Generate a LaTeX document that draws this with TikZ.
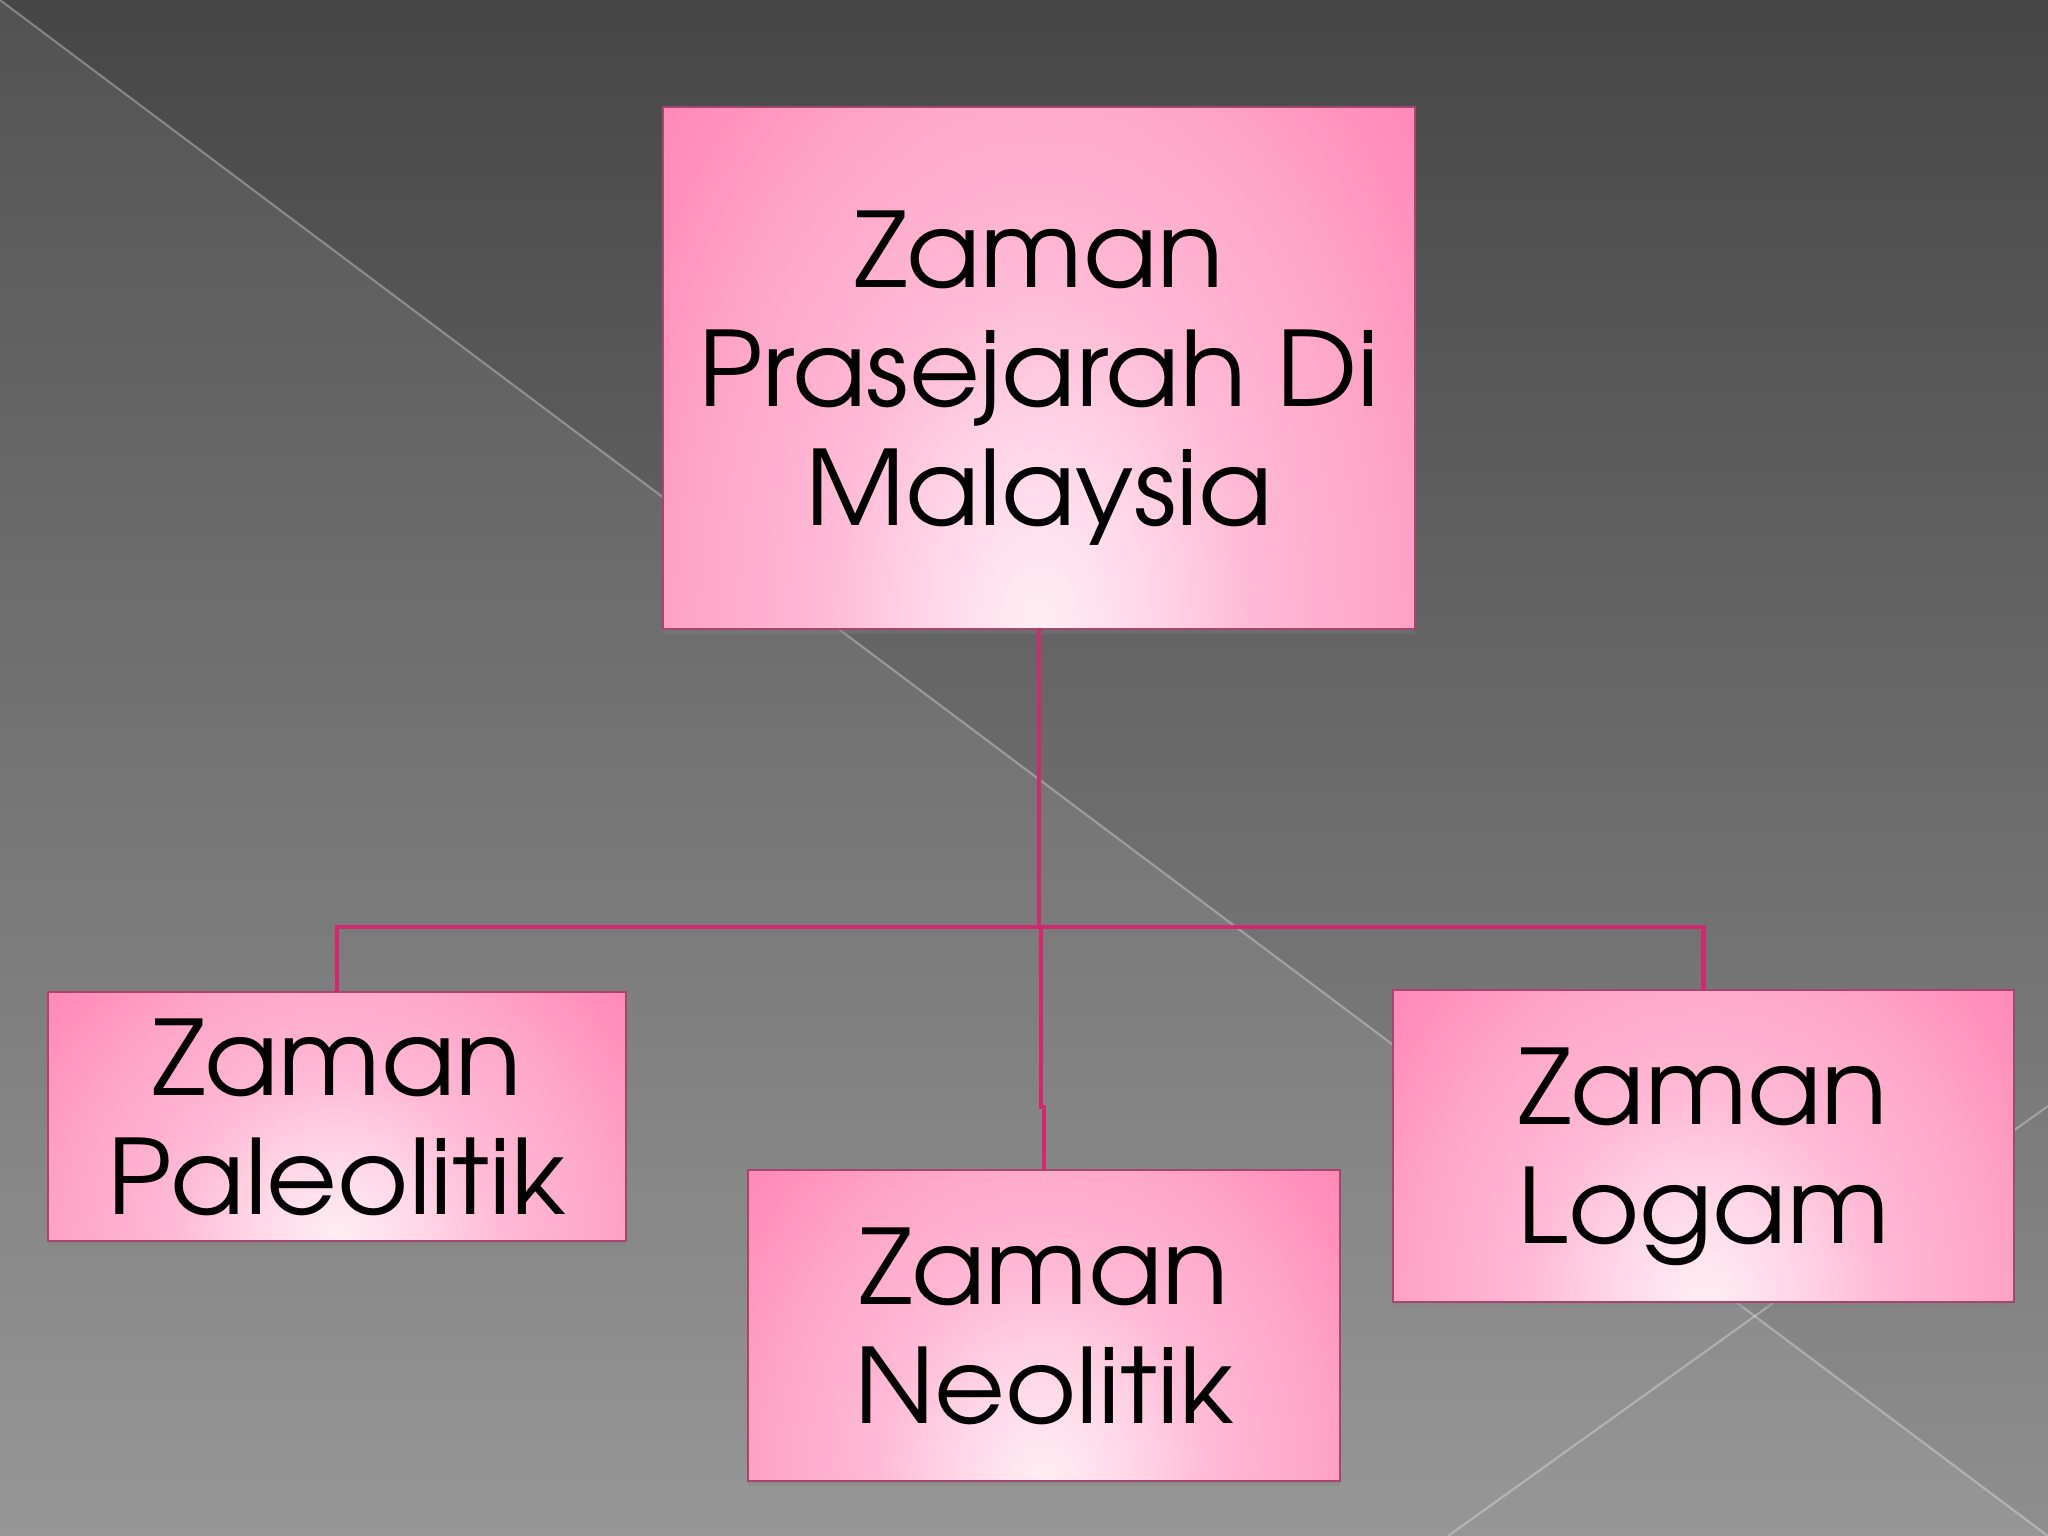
\documentclass[tikz,border=0pt]{standalone}
\usepackage{fontspec}
\setmainfont{TeX Gyre Adventor}[FakeStretch=1.05]
\usetikzlibrary{shadows,calc}
\definecolor{bgtop}{RGB}{70,70,70}
\definecolor{bgbot}{RGB}{143,143,143}
\definecolor{pinkD}{RGB}{255,134,182}
\definecolor{pinkE}{RGB}{255,150,190}
\definecolor{pinkT}{RGB}{255,167,201}
\definecolor{pinkM}{RGB}{255,186,213}
\definecolor{pinkN}{RGB}{255,214,230}
\definecolor{pinkL}{RGB}{255,238,244}
\definecolor{conncol}{RGB}{210,40,110}
\definecolor{edgecol}{RGB}{165,70,110}
\pgfdeclareradialshading{boxshade}{\pgfpoint{0bp}{0bp}}{color(0bp)=(pinkL); color(3.5bp)=(pinkN); color(6.5bp)=(pinkM); color(10.5bp)=(pinkT); color(13bp)=(pinkE); color(15.5bp)=(pinkD); color(50bp)=(pinkD)}
\tikzset{
  pbox/.style={rectangle, fill=pinkD, draw=edgecol, line width=0.5pt,
    inner sep=0pt, outer sep=0pt, align=center, text depth=0pt,
    font=\fontsize{29.5}{33.9}\selectfont,
    drop shadow={shadow xshift=0pt, shadow yshift=-1.5pt, opacity=0.35},
    path picture={
      \shade[shading=boxshade] let \p1=(path picture bounding box.south west), \p2=(path picture bounding box.north east) in
        (path picture bounding box.south) ellipse [x radius={1.08*(\x2-\x1)}, y radius={2.52*(\y2-\y1)}];
    }},
  connline/.style={draw=conncol, line width=1.35pt},
  bgline/.style={draw=white, draw opacity=0.3, line width=0.6pt}
}
\begin{document}
\begin{tikzpicture}[x=0.01cm, y=-0.01cm]
\useasboundingbox (0,0) rectangle (2048,1536);
\fill[top color=bgtop, bottom color=bgbot] (0,0) rectangle (2048,1536);
\fill[white, opacity=0.07] (0,0) -- (2048,1536) -- (0,1536) -- cycle;
\draw[bgline] (0,0) -- (2048,1536);
\draw[bgline] (1448,1536) -- (2048,1106);

\node[pbox, minimum width=7.52cm, minimum height=5.22cm] (top) at (1039,368) {Zaman\\Prasejarah Di\\Malaysia};
\node[pbox, minimum width=5.78cm, minimum height=2.49cm] (paleo) at (337,1116.5) {Zaman\\Paleolitik};
\node[pbox, minimum width=5.92cm, minimum height=3.11cm] (neo) at (1044,1325.5) {Zaman\\Neolitik};
\node[pbox, minimum width=6.21cm, minimum height=3.12cm] (logam) at (1703.5,1146) {Zaman\\Logam};

\coordinate (bus) at (1041,927);
\draw[connline] (top.south) -- (top.south |- bus);
\draw[connline] (paleo.north) |- (bus) -| (logam.north);
\draw[connline] (bus) -- ++(0,180) -| (neo.north);
\end{tikzpicture}
\end{document}
